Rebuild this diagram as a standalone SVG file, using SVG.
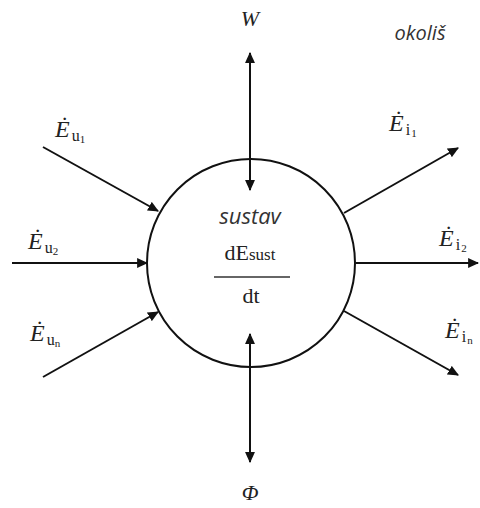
<svg xmlns="http://www.w3.org/2000/svg" width="480" height="508" viewBox="0 0 480 508">
<style>
.ln{stroke:#111;stroke-width:2;fill:none}
.serif{font-family:"Liberation Serif","DejaVu Serif",serif;fill:#222}
.it{font-style:italic}
.sans{font-family:"Open Sans","Noto Sans",sans-serif;font-style:italic;fill:#333}
.E{font-size:24px}
.s{font-size:16px}
.ss{font-size:11px}
</style>
<defs>
<marker id="ah" viewBox="0 0 10 10" refX="9" refY="5" markerWidth="11" markerHeight="11" markerUnits="userSpaceOnUse" orient="auto-start-reverse">
<path d="M0,0.5 L10,5 L0,9.5 z" fill="#111"/>
</marker>
</defs>
<g id="sustav">
<circle cx="251" cy="263" r="104" fill="#fff" stroke="#111" stroke-width="2"/>
<text class="sans" x="250" y="224" font-size="22" text-anchor="middle">sustav</text>
<text class="serif" x="250" y="260" font-size="22" text-anchor="middle">dE<tspan font-size="17">sust</tspan></text>
<line x1="214" y1="277" x2="290" y2="277" stroke="#333" stroke-width="1.5"/>
<text class="serif" x="251" y="303" font-size="22" text-anchor="middle">dt</text>
</g>
<g id="connectors">
<line class="ln" x1="43" y1="147" x2="158" y2="211" marker-end="url(#ah)"/>
<line class="ln" x1="12" y1="263" x2="147" y2="263" marker-end="url(#ah)"/>
<line class="ln" x1="43" y1="377" x2="158" y2="312" marker-end="url(#ah)"/>
<line class="ln" x1="344" y1="213" x2="458" y2="148" marker-end="url(#ah)"/>
<line class="ln" x1="356" y1="263" x2="478" y2="263" marker-end="url(#ah)"/>
<line class="ln" x1="344" y1="311" x2="458" y2="375" marker-end="url(#ah)"/>
<line class="ln" x1="250" y1="53" x2="250" y2="190" marker-start="url(#ah)" marker-end="url(#ah)"/>
<line class="ln" x1="250" y1="334" x2="250" y2="462" marker-start="url(#ah)" marker-end="url(#ah)"/>
</g>
<g id="W"><text class="serif it" x="250" y="26" font-size="22" text-anchor="middle">W</text></g>
<g id="Phi"><text class="serif it" x="250" y="500" font-size="22" text-anchor="middle">Φ</text></g>
<g id="okolis"><text class="sans" x="420" y="40" font-size="20" text-anchor="middle">okoliš</text></g>
<g id="Eu1"><text class="serif it E" x="55" y="137">Ė<tspan class="s" font-style="normal" dx="2" dy="4">u</tspan><tspan class="ss" font-style="normal" dy="2">1</tspan></text></g>
<g id="Eu2"><text class="serif it E" x="28" y="249">Ė<tspan class="s" font-style="normal" dx="2" dy="4">u</tspan><tspan class="ss" font-style="normal" dy="2">2</tspan></text></g>
<g id="Eun"><text class="serif it E" x="30" y="341">Ė<tspan class="s" font-style="normal" dx="2" dy="4">u</tspan><tspan class="ss" font-style="normal" dy="2">n</tspan></text></g>
<g id="Ei1"><text class="serif it E" x="389" y="131">Ė<tspan class="s" font-style="normal" dx="2" dy="4">i</tspan><tspan class="ss" font-style="normal" dx="1" dy="2">1</tspan></text></g>
<g id="Ei2"><text class="serif it E" x="439" y="246">Ė<tspan class="s" font-style="normal" dx="2" dy="4">i</tspan><tspan class="ss" font-style="normal" dx="1" dy="2">2</tspan></text></g>
<g id="Ein"><text class="serif it E" x="445" y="338">Ė<tspan class="s" font-style="normal" dx="2" dy="4">i</tspan><tspan class="ss" font-style="normal" dx="1" dy="2">n</tspan></text></g>
</svg>
